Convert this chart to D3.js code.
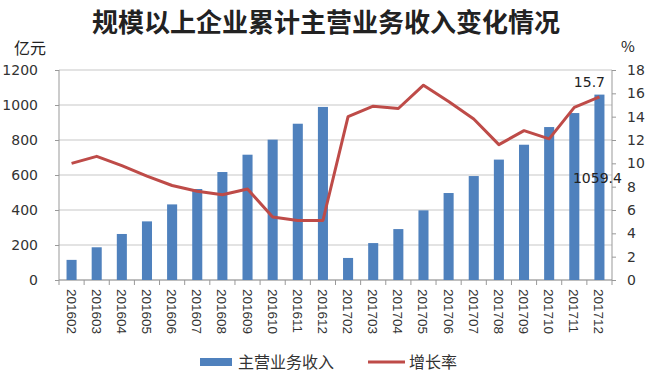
<!DOCTYPE html>
<html>
<head>
<meta charset="utf-8">
<script src="https://cdn.jsdelivr.net/npm/d3@7"></script>
<style>
body { margin: 0; background: #fff; }
text { font-family: "Noto Sans CJK SC", "Liberation Sans", sans-serif; }
</style>
</head>
<body>
<svg id="chart" width="651" height="379"></svg>
<script>
var months = ["201602","201603","201604","201605","201606","201607","201608","201609","201610","201611","201612",
	"201702","201703","201704","201705","201706","201707","201708","201709","201710","201711","201712"];
// 主营业务收入 (亿元)
var income = [115, 187, 263, 335, 432, 520, 617, 716, 802, 893, 989,
	126, 211, 291, 398, 497, 594, 688, 773, 874, 954, 1059.4];
// 增长率 (%)
var growth = [10.0, 10.6, 9.8, 8.9, 8.1, 7.6, 7.3, 7.8, 5.4, 5.1, 5.1,
	14.0, 14.9, 14.7, 16.7, 15.3, 13.8, 11.6, 12.8, 12.1, 14.8, 15.7];
var leftTicks = [0, 200, 400, 600, 800, 1000, 1200];
var rightTicks = [0, 2, 4, 6, 8, 10, 12, 14, 16, 18];

var barColor = "#4f81bd", lineColor = "#be4b48";
var numFont = "'DejaVu Sans', sans-serif";
var svg = d3.select("#chart");
var plotL = 59, plotR = 612, plotT = 70, plotB = 280;

var x = d3.scaleBand().domain(months).range([plotL, plotR]).paddingInner(0.6).paddingOuter(0.3);
var xb = d3.scaleBand().domain(months).range([plotL, plotR]);
var y = d3.scaleLinear().domain([0, 1200]).range([plotB, plotT]);
var y2 = d3.scaleLinear().domain([0, 18]).range([plotB, plotT]);

// title
svg.append("text").attr("x", 326).attr("y", 32).attr("text-anchor", "middle")
	.style("font-size", "26px").style("font-weight", "bold").attr("fill", "#222")
	.text("规模以上企业累计主营业务收入变化情况");
svg.append("text").attr("x", 30).attr("y", 54).attr("text-anchor", "middle")
	.style("font-size", "16px").attr("fill", "#222").text("亿元");
svg.append("text").attr("x", 628).attr("y", 52).attr("text-anchor", "middle")
	.style("font-size", "15px").attr("fill", "#222").text("%");

// gridlines
svg.append("g").selectAll("line").data(leftTicks).join("line")
	.attr("x1", plotL).attr("x2", plotR)
	.attr("y1", d => y(d)).attr("y2", d => y(d))
	.attr("stroke", "#c8c8c8").attr("stroke-width", 1.2);

// left axis
var gl = svg.append("g").attr("transform", "translate(" + plotL + ",0)")
	.call(d3.axisLeft(y).tickValues(leftTicks).tickFormat(d3.format("d")).tickSize(4).tickPadding(17));
gl.select(".domain").attr("stroke", "#999").attr("d", "M0," + plotT + "V" + plotB);
gl.selectAll(".tick line").attr("stroke", "#999");
gl.selectAll("text").style("font-size", "14px").attr("fill", "#333").style("font-family", numFont);

// right axis
var gr = svg.append("g").attr("transform", "translate(" + plotR + ",0)")
	.call(d3.axisRight(y2).tickValues(rightTicks).tickFormat(d3.format("d")).tickSize(4).tickPadding(11));
gr.select(".domain").attr("stroke", "#999").attr("d", "M0," + plotT + "V" + plotB);
gr.selectAll(".tick line").attr("stroke", "#999");
gr.selectAll("text").style("font-size", "14px").attr("fill", "#333").style("font-family", numFont);

// bottom axis with ticks between categories
var gx = svg.append("g");
gx.append("line").attr("x1", plotL).attr("x2", plotR).attr("y1", plotB).attr("y2", plotB)
	.attr("stroke", "#999");
gx.selectAll("line.tk").data(months.concat(["end"])).join("line").attr("class", "tk")
	.attr("x1", (d, i) => plotL + i * xb.step()).attr("x2", (d, i) => plotL + i * xb.step())
	.attr("y1", plotB).attr("y2", plotB + 5).attr("stroke", "#999");
gx.selectAll("text").data(months).join("text")
	.attr("transform", d => "translate(" + (xb(d) + xb.bandwidth() / 2 - 5) + "," + (plotB + 9) + ") rotate(90)")
	.style("font-size", "13.5px").style("font-family", "'Liberation Sans', sans-serif")
	.attr("fill", "#333").text(d => d);

// bars
svg.append("g").selectAll("rect").data(income).join("rect")
	.attr("x", (d, i) => x(months[i])).attr("width", x.bandwidth())
	.attr("y", d => y(d)).attr("height", d => y(0) - y(d))
	.attr("fill", barColor);

// growth line
var line = d3.line().x((d, i) => xb(months[i]) + xb.bandwidth() / 2).y(d => y2(d));
svg.append("path").datum(growth).attr("d", line)
	.attr("fill", "none").attr("stroke", lineColor).attr("stroke-width", 3)
	.attr("stroke-linejoin", "round");

// data labels for last point
var last = months.length - 1;
var lx = xb(months[last]) + xb.bandwidth() / 2;
svg.append("text").attr("x", lx - 10).attr("y", y2(growth[last]) - 10).attr("text-anchor", "middle")
	.style("font-size", "14px").style("font-family", numFont).attr("fill", "#222")
	.text(growth[last]);
svg.append("text").attr("x", lx - 2).attr("y", (y(income[last]) + y(0)) / 2 - 4).attr("text-anchor", "middle")
	.style("font-size", "14px").style("font-family", numFont).attr("fill", "#222")
	.text(income[last]);

// legend
var lg = svg.append("g");
lg.append("rect").attr("x", 200).attr("y", 358).attr("width", 32).attr("height", 8).attr("fill", barColor);
lg.append("text").attr("x", 238).attr("y", 368).style("font-size", "16px").attr("fill", "#333").text("主营业务收入");
lg.append("line").attr("x1", 368).attr("x2", 405).attr("y1", 362).attr("y2", 362)
	.attr("stroke", lineColor).attr("stroke-width", 3);
lg.append("text").attr("x", 409).attr("y", 368).style("font-size", "16px").attr("fill", "#333").text("增长率");
</script>
</body>
</html>
